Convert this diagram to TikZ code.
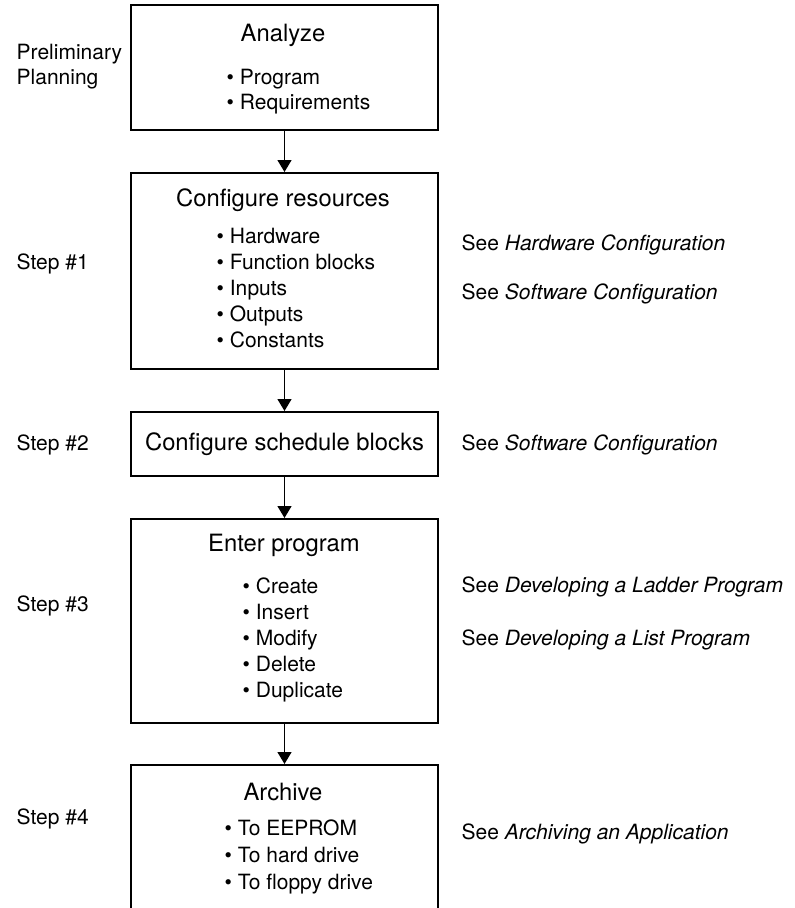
\documentclass[tikz,border=0pt]{standalone}
\usepackage{fontspec}
\setmainfont{TeX Gyre Heros}
\usetikzlibrary{arrows.meta}
\newcommand{\zbul}{\textbullet\ }
\newcommand{\zsee}[1]{See \textit{#1}}

\begin{document}
\begin{tikzpicture}[x=.75pt, y=-.75pt, zbox/.style={draw, line width=1.5pt, minimum width=230.25pt, inner sep=0}, ztitle/.style={font=\fontsize{17.85}{20}\selectfont, anchor=base}, zitem/.style={font=\fontsize{15.75}{18}\selectfont, anchor=base west}, zarr/.style={line width=1pt, -{Triangle[width=10.5pt, length=9pt]}}]
  \clip (0,0) rectangle (794,908);
  % boxes
  \node[zbox, minimum height=93.75pt] (an) at (284.5,67.5) {};
  \node[zbox, minimum height=147pt] (cr) at (284.5,271) {};
  \node[zbox, minimum height=48pt, font=\fontsize{17.85}{20}\selectfont] (cs) at (284.5,444) {Configure schedule blocks};
  \node[zbox, minimum height=153pt] (ep) at (284.5,621) {};
  \node[zbox, minimum height=135pt] (ar) at (284.5,855) {};
  \draw[zarr] (an.south) -- (cr.north);
  \draw[zarr] (cr.south) -- (cs.north);
  \draw[zarr] (cs.south) -- (ep.north);
  \draw[zarr] (ep.south) -- (ar.north);
  % titles and lists
  \node[ztitle] (anT) at (283,41.5) {Analyze};
  \foreach \t [count=\i] in {Program,Requirements}
    \node[zitem] (an\i) at (222,59.5+25*\i) {\zbul\t};
  \node[ztitle] (crT) at (283,206.5) {Configure resources};
  \foreach \t [count=\i] in {Hardware,Function blocks,Inputs,Outputs,Constants}
    \node[zitem] (cr\i) at (212,217.3+26.1*\i) {\zbul\t};
  \node[ztitle] (epT) at (284,551.5) {Enter program};
  \foreach \t [count=\i] in {Create,Insert,Modify,Delete,Duplicate}
    \node[zitem] (ep\i) at (238,567.5+26*\i) {\zbul\t};
  \node[ztitle] (arT) at (283,800.5) {Archive};
  \foreach \t [count=\i] in {To EEPROM,To hard drive,To floppy drive}
    \node[zitem] (ar\i) at (220,808.5+27*\i) {\zbul\t};
  % steps
  \node[zitem] (pre1) at (12,59.5) {Preliminary};
  \node[zitem] (pre2) at (12,84.5) {Planning};
  \foreach \s/\y in {1/269.5,2/450.5,3/611.5,4/824.5}
    \node[zitem] (step\s) at (12,\y) {Step \#\s};
  % references
  \node[zitem] (seehw) at (457,250.5) {\zsee{Hardware Configuration}};
  \node[zitem] (seesw) at (457,299.5) {\zsee{Software Configuration}};
  \node[zitem] (seesc) at (457,450.5) {\zsee{Software Configuration}};
  \node[zitem] (seeld) at (457,592.5) {\zsee{Developing a Ladder Program}};
  \node[zitem] (seels) at (457,645.5) {\zsee{Developing a List Program}};
  \node[zitem] (seear) at (457,839.5) {\zsee{Archiving an Application}};
\end{tikzpicture}
\end{document}
